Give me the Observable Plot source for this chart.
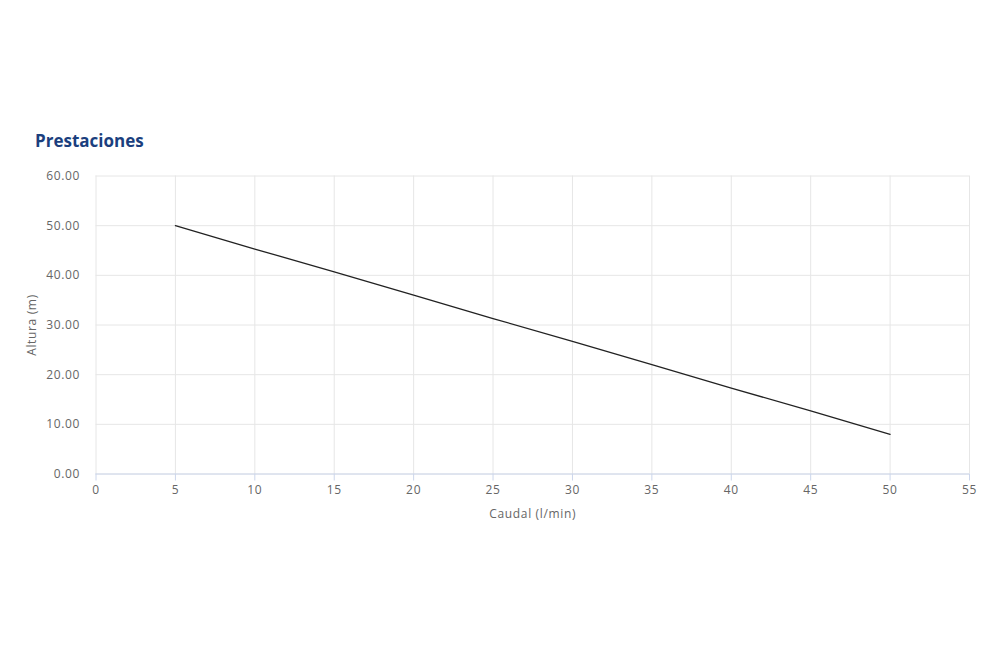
<!DOCTYPE html>
<html>
<head>
<meta charset="utf-8">
<script src="https://cdn.jsdelivr.net/npm/d3@7"></script>
<script src="https://cdn.jsdelivr.net/npm/@observablehq/plot@0.6"></script>
<style>
  html, body { margin: 0; padding: 0; background: #fff; }
  #wrap { position: relative; width: 1000px; height: 650px; font-family: "Open Sans", sans-serif; }
  #title { position: absolute; left: 35px; top: 129px; font-size: 17px; font-weight: 700; color: #1b3f7e; }
  #chart { position: absolute; left: 0; top: 0; }
  #chart svg text { letter-spacing: 0.65px; }
</style>
</head>
<body>
<div id="wrap">
  <div id="chart"></div>
  <div id="title">Prestaciones</div>
</div>
<script>
const title = "Prestaciones";
const xLabel = "Caudal (l/min)";
const yLabel = "Altura (m)";
const caudal = [5, 10, 15, 20, 25, 30, 35, 40, 45, 50];
const altura = [50, 45.3, 40.7, 36, 31.3, 26.7, 22, 17.3, 12.7, 8];
const xTicks = [0, 5, 10, 15, 20, 25, 30, 35, 40, 45, 50, 55];
const yTicks = [0, 10, 20, 30, 40, 50, 60];

const data = caudal.map((c, i) => ({caudal: c, altura: altura[i]}));

const plot = Plot.plot({
  width: 1000,
  height: 650,
  marginLeft: 95.5,
  marginRight: 31,
  marginTop: 175.5,
  marginBottom: 176.5,
  style: {fontFamily: "'Open Sans', sans-serif", fontSize: "12px", background: "#fff"},
  x: {domain: [0, 55]},
  y: {domain: [0, 60]},
  marks: [
    Plot.gridX(xTicks, {stroke: "#e6e6e6", strokeOpacity: 1}),
    Plot.gridY(yTicks, {stroke: "#e6e6e6", strokeOpacity: 1}),
    Plot.ruleY([0], {stroke: "#ccd6eb", strokeWidth: 1}),
    Plot.axisX(xTicks, {
      tickSize: 7, stroke: "#ccd6eb", fill: "#666666", tickPadding: 4,
      label: xLabel, labelAnchor: "center", labelArrow: "none", labelOffset: 44,
      fontSize: 12
    }),
    Plot.axisY(yTicks, {
      tickSize: 0, fill: "#666666", tickPadding: 16, tickFormat: d => d.toFixed(2),
      label: yLabel, labelAnchor: "center", labelArrow: "none", labelOffset: 69,
      fontSize: 12
    }),
    Plot.line(data, {x: "caudal", y: "altura", stroke: "#222", strokeWidth: 1.3})
  ]
});
document.getElementById("chart").appendChild(plot);
</script>
</body>
</html>
